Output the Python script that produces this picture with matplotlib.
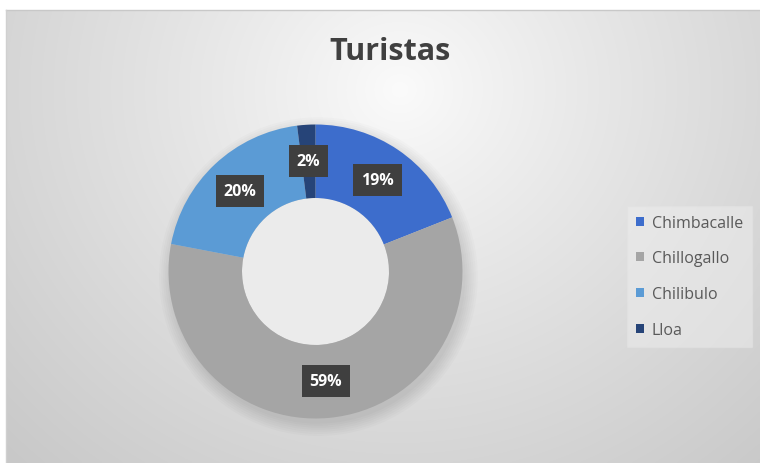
import numpy as np
import matplotlib.pyplot as plt
from matplotlib.patches import Patch

# -------------------------------------------------------------------
# data
categories = ['Chimbacalle', 'Chillogallo', 'Chilibulo', 'Lloa']
values = [19, 59, 20, 2]
colors = ['#3d6dcc', '#a5a5a5', '#5b9bd5', '#264478']
title = 'Turistas'

plt.rcParams['font.family'] = ['Open Sans', 'DejaVu Sans']

W, H = 760, 464
fig = plt.figure(figsize=(W / 100, H / 100), dpi=100)
fig.patch.set_facecolor('white')

# -------------------------------------------------------------------
# background: radial gradient, light near the title, gray at the edges
bg = fig.add_axes([0, 0, 1, 1])
bg.set_xlim(0, W)
bg.set_ylim(H, 0)
bg.axis('off')
x0, x1, y0, y1 = 6, W, 11, H
xx, yy = np.meshgrid(np.linspace(x0, x1, 300), np.linspace(y0, y1, 200))
d = np.sqrt(((xx - 400) / 560) ** 2 + ((yy - 90) / 520) ** 2)
d = np.clip(d, 0, 1)
shade = 0.985 - 0.20 * d ** 0.9
img = np.dstack([shade, shade, shade])
bg.imshow(img, extent=(x0, x1, y1, y0), aspect='auto', interpolation='bilinear')
bg.plot([x0, x1], [y0, y0], color='#c8c8c8', lw=1)
bg.plot([x0, x0], [y0, y1], color='#d0d0d0', lw=1)

# -------------------------------------------------------------------
# donut
cx, cy, r = 315.5, 272.5, 147
ax = fig.add_axes([(cx - r) / W, (H - cy - r) / H, 2 * r / W, 2 * r / H])
ax.axis('off')

wedges, _ = ax.pie(values, colors=colors, startangle=90, counterclock=False,
                   radius=1.0, wedgeprops=dict(width=0.5, linewidth=0))
for w in wedges:
    w.set_zorder(2)

# soft shadow under the ring
for k in range(7):
    ax.add_patch(plt.Circle((0.02, -0.035), 1.0 + 0.014 * k, color='black',
                            alpha=0.015, zorder=0, lw=0, clip_on=False))
# lighter hole, like the reference
ax.add_patch(plt.Circle((0, 0), 0.5, color='#ebebeb', zorder=1, lw=0))

ax.set_xlim(-1, 1)
ax.set_ylim(-1, 1)

total = float(sum(values))
for w, v in zip(wedges, values):
    ang = np.deg2rad((w.theta1 + w.theta2) / 2)
    rr = 0.75
    ax.text(rr * np.cos(ang), rr * np.sin(ang), '%d%%' % round(100 * v / total),
            ha='center', va='center', color='white', fontsize=11.5,
            fontweight='bold', zorder=5,
            bbox=dict(boxstyle='square,pad=0.5', fc='#3f3f3f', ec='none'))

# -------------------------------------------------------------------
# title
fig.text(390 / W, 1 - 52 / H, title, ha='center', va='center',
         fontsize=22, fontweight='bold', color='#404040')

# legend
handles = [Patch(facecolor=c, edgecolor='none') for c in colors]
leg = fig.legend(handles, categories, loc='upper left',
                 bbox_to_anchor=(627 / W, 1 - 207 / H), frameon=True,
                 fontsize=11.5, labelcolor='#595959', handlelength=0.5,
                 handleheight=0.5, handletextpad=0.5, labelspacing=1.23,
                 borderpad=0.55, borderaxespad=0, fancybox=False)
leg.get_frame().set_facecolor('#eeeeee')
leg.get_frame().set_edgecolor('#e2e2e2')
leg.get_frame().set_alpha(0.5)

fig.savefig('out.png', dpi=100)
